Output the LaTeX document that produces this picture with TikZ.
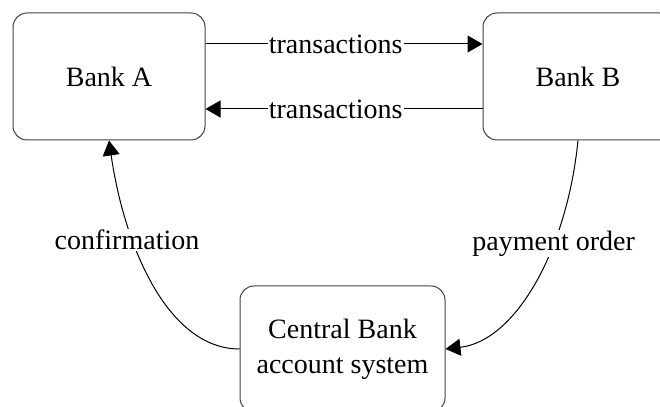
\documentclass[tikz,border=0pt]{standalone}
\usepackage{fontspec}
\setmainfont{Liberation Serif}
\usetikzlibrary{positioning,arrows.meta}
\definecolor{BoxEdge}{HTML}{404040}

\begin{document}
\begin{tikzpicture}[node distance=138.5pt, line width=0.5pt, every node/.style={font=\fontsize{14}{17.5}\selectfont}, >={Triangle[length=7.5pt,width=8.5pt]}]
  \tikzset{bank/.style={draw=BoxEdge,rounded corners=7pt,minimum width=96pt,minimum height=63.5pt,inner sep=0pt,align=center},
    flowlbl/.style={fill=white,inner sep=0.5pt}}
  \clip (0,0) rectangle (330pt,203.5pt);
  \node[bank] (bankA) at (54.5pt,165.25pt) {Bank A};
  \node[bank] (bankB) [right=of bankA,minimum width=95pt] {Bank B};
  \node[bank] (central) [below=72.5pt of bankA,xshift=116.75pt,minimum width=102.5pt,minimum height=63pt] {Central Bank\\account system};
  \draw[->] ([yshift=16.25pt]bankA.east) -- node[flowlbl,pos=0.47] {transactions} ([yshift=16.25pt]bankB.west);
  \draw[->] ([yshift=-16.25pt]bankB.west) -- node[flowlbl,pos=0.53] {transactions} ([yshift=-16.25pt]bankA.east);
  \draw[->] (bankB.south) .. controls +(-5.5pt,-55pt) and +(35pt,4pt) .. (central.east) node[flowlbl,pos=0.34] {payment order};
  \draw[->] (central.west) .. controls +(-35pt,0pt) and +(8pt,-55pt) .. (bankA.south) node[flowlbl,pos=0.68,xshift=-3pt] {confirmation};
\end{tikzpicture}
\end{document}
